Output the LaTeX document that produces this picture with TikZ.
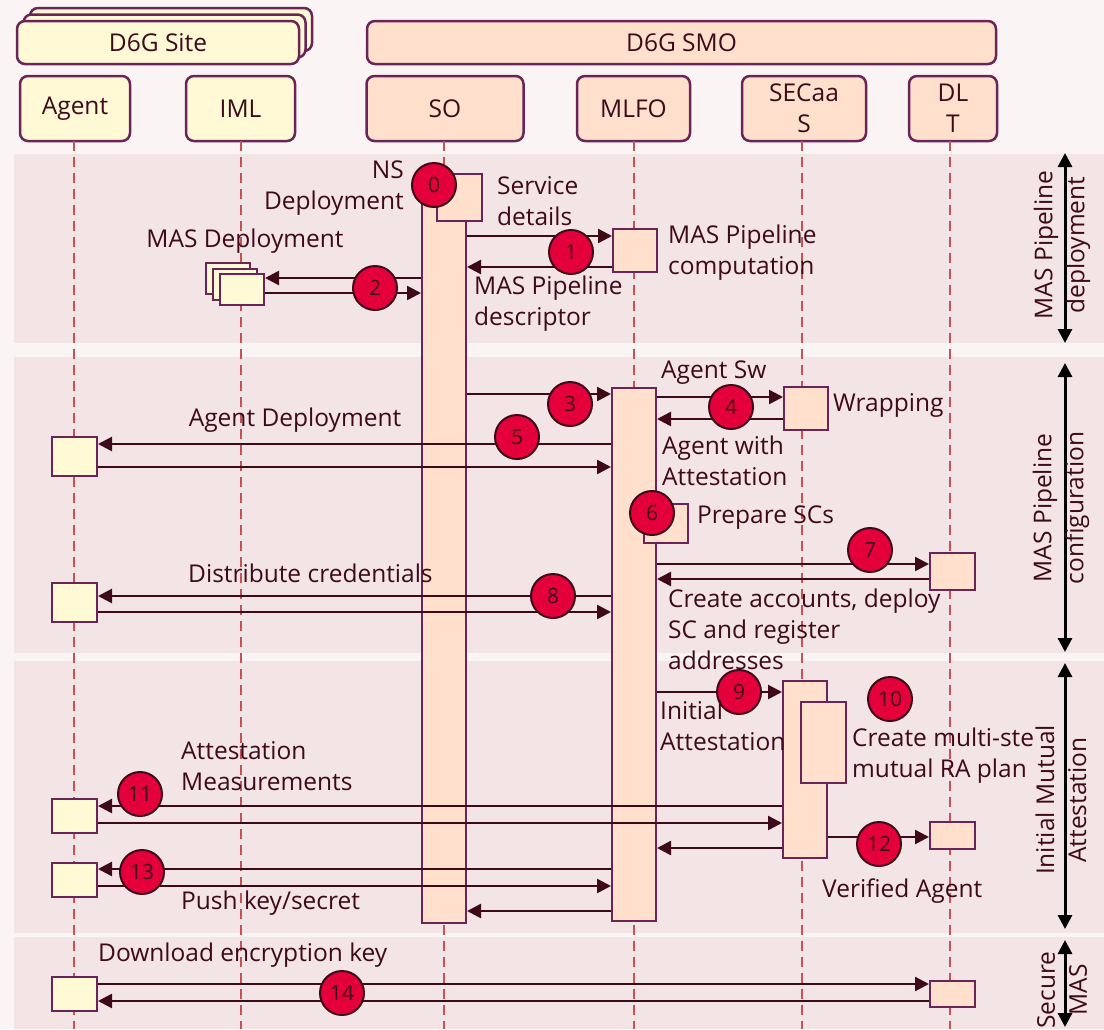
\documentclass[tikz,border=0pt]{standalone}
\usepackage{fontspec}
\setmainfont{Open Sans}
\usetikzlibrary{arrows.meta, math}
\definecolor{pagebg}{RGB}{250,245,244}
\definecolor{bandpink}{RGB}{243,229,229}
\definecolor{sitefill}{RGB}{255,249,214}
\definecolor{smofill}{RGB}{255,224,204}
\definecolor{frame}{RGB}{107,36,88}
\definecolor{life}{RGB}{198,83,83}
\definecolor{ink}{RGB}{62,10,26}
\definecolor{badgered}{RGB}{228,0,58}

\begin{document}
\begin{tikzpicture}[x=1pt,y=-1pt,
  every node/.style={text=ink, font=\fontsize{24.5}{31}\selectfont},
  head/.style={draw=frame, line width=2.5, rounded corners=8, inner sep=0, align=center, minimum height=65},
  act/.style={draw=frame, line width=2, fill=smofill, inner sep=0, minimum width=44},
  sbox/.style={draw=frame, line width=2, fill=sitefill, inner sep=0, minimum width=45},
  lifeline/.style={draw=life, line width=2, dash pattern=on 10pt off 6pt},
  msg/.style={draw=ink, line width=2.5, -{Triangle[length=14pt,width=14pt]}},
  badge/.style={circle, draw=ink, line width=2, fill=badgered, minimum size=44, inner sep=0, font=\fontsize{21}{21}\selectfont},
  lbl/.style={anchor=west, align=left, inner sep=0},
  phase/.style={draw=black, line width=3, {Triangle[length=14pt,width=14pt]}-{Triangle[length=14pt,width=14pt]}}
]
\tikzmath{
\bw=44;
\H=1029;
}
\useasboundingbox[fill=pagebg] (0,0) rectangle (1104,\H);

% phases
\fill[bandpink] (14,154) rectangle (1104,343);
\fill[bandpink] (14,357) rectangle (1104,653);
\fill[bandpink] (14,661) rectangle (1104,933);
\fill[bandpink] (14,937) rectangle (1104,\H);

% headers
\node[head, fill=sitefill, minimum width=282, minimum height=43] (site3) at (171,29.5) {};
\node[head, fill=sitefill, minimum width=282, minimum height=43] (site2) at (164.5,36) {};
\node[head, fill=sitefill, minimum width=282, minimum height=43] (site) at (158,42.5) {D6G Site};
\node[head, fill=smofill, minimum width=629, minimum height=43] (smo) at (681.5,42.5) {D6G SMO};

\node[head, fill=sitefill, minimum width=110] (agent) at (75,108.5) {Agent};
\node[head, fill=sitefill, minimum width=109] (iml) at (240.5,108.5) {IML};
\node[head, fill=smofill, minimum width=157] (so) at (445,108.5) {SO};
\node[head, fill=smofill, minimum width=113] (mlfo) at (633.5,108.5) {MLFO};
\node[head, fill=smofill, minimum width=124] (secaas) at (804,108.5) {SECaa\\S};
\node[head, fill=smofill, minimum width=88] (dlt) at (953,108.5) {DL\\T};

\foreach \n/\x in {agent/74, iml/241, so/444, mlfo/634, secaas/802, dlt/950}
  \draw[lifeline] (\x,141) -- (\x,\H);

% activations
\node[act, minimum height=727] (sobar) at (444,559.5) {};
\node[act, minimum height=533] (mlbar) at (634,654) {};
\node[act, minimum height=177] (secbar) at (805,769.5) {};

% 0
\node[act, minimum width=45, minimum height=47] (ns) at (459.5,197.5) {};
\node[badge] (b0) at (434,185) {0};
\node[anchor=east, align=right, inner sep=0] (l0) at (404,188) {NS\\Deployment};
\node[lbl] (l0b) at (497,201) {Service\\details};

% 1
\node[act, minimum height=43] (mlp) at (635,250.5) {};
\draw[msg] (sobar.east |- 0,236) -- (mlp.west |- 0,236);
\draw[msg] (mlp.west |- 0,267) -- (sobar.east |- 0,267);
\node[badge] (b1) at (571,252) {1};
\node[lbl] (l1) at (668,252.5) {MAS Pipeline\\computation};
\node[lbl] (l1b) at (474,304) {MAS Pipeline\\descriptor};

% 2
\node[sbox, minimum width=44, minimum height=31] (mas3) at (228,278.5) {};
\node[sbox, minimum width=44, minimum height=31] (mas2) at (235,284) {};
\node[sbox, minimum width=44, minimum height=31] (mas) at (242,289.5) {};
\draw[msg] (sobar.west |- 0,278) -- (mas.east |- 0,278);
\draw[msg] (mas.east |- 0,293) -- (sobar.west |- 0,293);
\node[badge] (b2) at (375,288) {2};
\node[inner sep=0] (l2) at (245,241) {MAS Deployment};

% 3
\draw[msg] (sobar.east |- 0,394) -- (mlbar.west |- 0,394);
\node[badge] (b3) at (570,404) {3};

% 4
\node[act, minimum height=43] (wrap) at (806,408.5) {};
\draw[msg] (mlbar.east |- 0,397) -- (wrap.west |- 0,397);
\draw[msg] (wrap.west |- 0,419) -- (mlbar.east |- 0,419);
\node[badge] (b4) at (731,407) {4};
\node[lbl] (l4) at (661,373) {Agent Sw};
\node[lbl] (l4b) at (833,405) {Wrapping};
\node[lbl] (l4c) at (662,461) {Agent with\\Attestation};

% 5
\node[sbox, minimum height=39] (ag5) at (74.5,456.5) {};
\draw[msg] (mlbar.west |- 0,444) -- (ag5.east |- 0,444);
\draw[msg] (ag5.east |- 0,467) -- (mlbar.west |- 0,467);
\node[badge] (b5) at (517,437) {5};
\node[inner sep=0] (l5) at (295,420) {Agent Deployment};

% 6
\node[act, minimum height=39] (prep) at (666,523.5) {};
\node[badge] (b6) at (652,513) {6};
\node[lbl] (l6) at (697,518) {Prepare SCs};

% 7
\node[act, minimum width=45, minimum height=37] (dlt7) at (952.5,571.5) {};
\draw[msg] (mlbar.east |- 0,564) -- (dlt7.west |- 0,564);
\draw[msg] (dlt7.west |- 0,579) -- (mlbar.east |- 0,579);
\node[badge] (b7) at (870,550) {7};
\node[lbl] (l7) at (668,629.5) {Create accounts, deploy\\SC and register\\addresses};

% 8
\node[sbox, minimum height=39] (ag8) at (74.5,602.5) {};
\draw[msg] (mlbar.west |- 0,596) -- (ag8.east |- 0,596);
\draw[msg] (ag8.east |- 0,612) -- (mlbar.west |- 0,612);
\node[badge] (b8) at (553,596) {8};
\node[lbl] (l8) at (188,573) {Distribute credentials};

% 9
\draw[msg] (mlbar.east |- 0,692) -- (secbar.west |- 0,692);
\node[badge] (b9) at (739,692) {9};
\node[lbl] (l9) at (660,725.5) {Initial\\Attestation};

% 10
\node[act, minimum width=45, minimum height=81] (plan) at (823,742) {};
\node[badge] (b10) at (890,699) {10};
\node[lbl] (l10) at (852,755.5) {Create multi-ste\\mutual RA plan};

% 11
\node[sbox, minimum height=34] (ag11) at (74.5,816) {};
\draw[msg] (secbar.west |- 0,806) -- (ag11.east |- 0,806);
\draw[msg] (ag11.east |- 0,823) -- (secbar.west |- 0,823);
\node[badge] (b11) at (140,794) {11};
\node[lbl] (l11) at (181,766.5) {Attestation\\Measurements};

% 12
\node[act, minimum width=45, minimum height=27] (dlt12) at (952.5,835.5) {};
\draw[msg] (secbar.east |- 0,837) -- (dlt12.west |- 0,837);
\node[badge] (b12) at (879,844) {12};
\draw[msg] (secbar.west |- 0,848) -- (mlbar.east |- 0,848);
\node[lbl] (l12) at (822,891) {Verified Agent};

% 13
\node[sbox, minimum height=34] (ag13) at (74.5,880) {};
\draw[msg] (mlbar.west |- 0,869) -- (ag13.east |- 0,869);
\draw[msg] (ag13.east |- 0,886) -- (mlbar.west |- 0,886);
\node[badge] (b13) at (142,872) {13};
\node[lbl] (l13) at (181,903) {Push key/secret};
\draw[msg] (mlbar.west |- 0,911) -- (sobar.east |- 0,911);

% 14
\node[sbox, minimum height=34] (ag14) at (74.5,994) {};
\node[act, minimum width=45, minimum height=26] (dlt14) at (952.5,994) {};
\draw[msg] (ag14.east |- 0,984) -- (dlt14.west |- 0,984);
\draw[msg] (dlt14.west |- 0,1001) -- (ag14.east |- 0,1001);
\node[badge] (b14) at (342,993) {14};
\node[lbl] (l14) at (98,955) {Download encryption key};

% phase markers
\coordinate (p1a) at (1065,153); \coordinate (p1b) at (1065,343);
\coordinate (p2a) at (1065,363); \coordinate (p2b) at (1065,652);
\coordinate (p3a) at (1065,663); \coordinate (p3b) at (1065,929);
\coordinate (p4a) at (1065,940); \coordinate (p4b) at (1065,1027);
\draw[phase] (p1a) -- (p1b);
\draw[phase] (p2a) -- (p2b);
\draw[phase] (p3a) -- (p3b);
\draw[phase] (p4a) -- (p4b);
\node[rotate=90, align=center, inner sep=0, font=\fontsize{24.5}{32}\selectfont] (ph1) at (1062,245) {MAS Pipeline\\deployment};
\node[rotate=90, align=center, inner sep=0, font=\fontsize{24.5}{32}\selectfont] (ph2) at (1061,508) {MAS Pipeline\\configuration};
\node[rotate=90, align=center, inner sep=0, font=\fontsize{24.5}{32}\selectfont] (ph3) at (1061,800) {Initial Mutual\\Attestation};
\node[rotate=90, align=center, inner sep=0, font=\fontsize{24.5}{32}\selectfont] (ph4) at (1062,990) {Secure\\MAS};
\end{tikzpicture}
\end{document}
